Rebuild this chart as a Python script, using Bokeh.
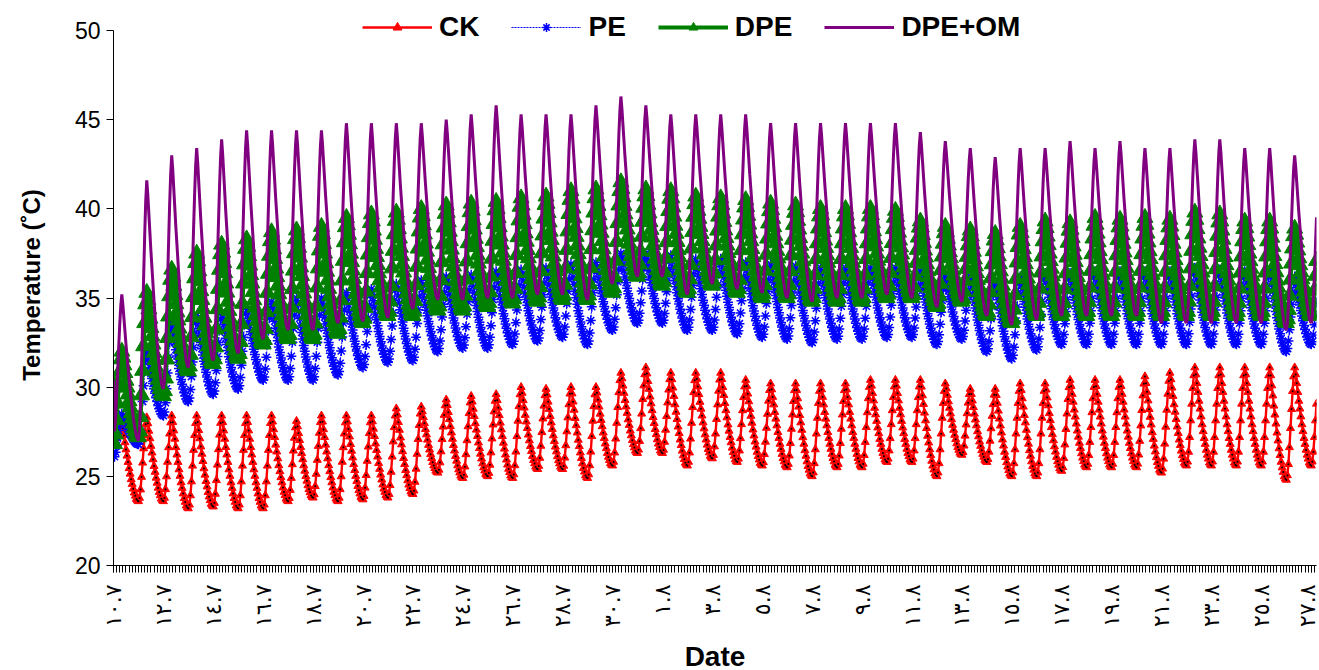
import math
import numpy as np
from bokeh.plotting import figure
from bokeh.models import FixedTicker, Legend, LegendItem, ColumnDataSource, Range1d
from bokeh.embed import file_html
from bokeh.resources import INLINE

# ---------------- data ----------------
N_HOURS = 1158                      # hourly readings, 10 Jul -> 27 Aug
tick_hours = list(range(0, 1153, 48))
tick_labels = ["١٠.٧", "١٢.٧", "١٤.٧", "١٦.٧", "١٨.٧", "٢٠.٧", "٢٢.٧", "٢٤.٧",
               "٢٦.٧", "٢٨.٧", "٣٠.٧", "١.٨", "٣.٨", "٥.٨", "٧.٨", "٩.٨",
               "١١.٨", "١٣.٨", "١٥.٨", "١٧.٨", "١٩.٨", "٢١.٨", "٢٣.٨", "٢٥.٨", "٢٧.٨"]
y_ticks = [20, 25, 30, 35, 40, 45, 50]

# diurnal shape (fraction between daily low and daily high), hour 0..23
diurnal_profile = [0.0, 0.04, 0.14, 0.29, 0.46, 0.63, 0.79, 0.92, 1.0,
                   0.93, 0.84, 0.75, 0.66, 0.58, 0.50, 0.42, 0.35, 0.28,
                   0.22, 0.16, 0.11, 0.07, 0.03, 0.01]

series_names = ["CK", "PE", "DPE", "DPE+OM"]
start_values = [27.7, 29.5, 30.2, 30.4]

ck_low = [26.8, 23.6, 23.6, 23.2, 23.3, 23.2, 23.2, 23.6, 23.8, 23.6, 23.7, 23.8, 24.0,
          25.2, 24.9, 25.0, 24.9, 25.4, 25.4, 24.9, 25.6, 26.3, 26.3, 25.6, 26.0, 25.8,
          25.6, 25.5, 25.0, 25.5, 25.5, 25.8, 25.8, 25.0, 26.2, 25.8, 25.0, 25.0, 25.3,
          25.5, 25.5, 25.5, 25.2, 25.6, 25.6, 25.6, 25.6, 24.8, 25.6]
ck_high = [28.0, 28.3, 28.4, 28.4, 28.4, 28.4, 28.4, 28.1, 28.4, 28.4, 28.4, 28.8, 28.9,
           29.3, 29.5, 29.6, 30.0, 29.9, 30.0, 30.0, 30.8, 31.1, 30.8, 30.8, 30.8, 30.4,
           30.2, 30.2, 30.2, 30.2, 30.4, 30.4, 30.4, 30.2, 29.9, 29.9, 30.2, 30.2, 30.4,
           30.4, 30.4, 30.6, 30.8, 31.1, 31.1, 31.1, 31.1, 31.1, 31.1]

pe_low = [26.0, 26.8, 28.4, 29.2, 29.6, 29.9, 30.4, 30.4, 30.4, 30.7, 31.1, 31.4, 31.5,
          32.0, 32.2, 32.2, 32.4, 32.6, 32.8, 32.4, 33.2, 33.6, 33.6, 33.2, 33.2, 33.0,
          32.8, 32.7, 32.5, 32.7, 32.7, 32.8, 32.8, 32.4, 32.7, 32.0, 31.6, 32.1, 32.4,
          32.4, 32.4, 32.4, 32.4, 32.4, 32.4, 32.4, 32.4, 32.0, 32.4]
pe_high = [28.5, 32.0, 33.6, 34.0, 34.2, 34.5, 34.8, 35.0, 35.0, 35.3, 35.5, 35.8, 36.0,
           36.2, 36.3, 36.5, 36.6, 36.7, 36.9, 37.0, 37.5, 37.5, 37.4, 37.2, 37.2, 37.0,
           36.9, 36.8, 36.7, 36.7, 36.7, 36.7, 36.5, 36.3, 36.2, 36.0, 36.2, 36.4, 36.4,
           36.5, 36.5, 36.5, 36.5, 36.7, 36.6, 36.5, 36.5, 36.2, 36.2]

dpe_low = [26.6, 27.2, 29.5, 30.9, 31.3, 31.6, 32.4, 32.7, 32.7, 33.0, 33.6, 34.0, 34.0,
           34.3, 34.3, 34.5, 34.7, 34.8, 34.9, 34.9, 35.3, 36.2, 35.7, 35.3, 35.7, 35.3,
           35.0, 35.0, 34.8, 34.8, 34.8, 35.0, 35.0, 34.5, 34.8, 34.0, 33.6, 34.0, 34.0,
           34.0, 34.0, 34.0, 34.0, 34.0, 34.0, 34.0, 34.0, 33.6, 34.0]
dpe_high = [32.0, 35.3, 36.6, 37.5, 38.0, 38.3, 38.7, 38.8, 39.0, 39.5, 39.7, 39.8, 40.0,
            40.2, 40.3, 40.4, 40.6, 40.7, 41.0, 41.1, 41.5, 41.1, 41.0, 40.7, 40.6, 40.5,
            40.3, 40.2, 40.0, 40.0, 40.0, 39.9, 39.3, 39.0, 38.8, 38.6, 39.0, 39.3, 39.2,
            39.5, 39.4, 39.5, 39.4, 39.8, 39.7, 39.3, 39.3, 38.9, 38.9]

om_low = [27.2, 27.0, 29.9, 31.1, 31.5, 31.9, 32.7, 33.2, 33.2, 33.6, 33.7, 33.9, 34.4,
          34.9, 34.9, 35.0, 35.0, 35.2, 35.2, 34.9, 35.8, 36.2, 36.2, 35.2, 35.8, 35.5,
          35.3, 35.0, 34.8, 35.0, 35.0, 35.2, 35.0, 34.5, 34.8, 34.0, 33.5, 33.8, 34.0,
          34.0, 34.0, 34.0, 33.6, 33.6, 33.6, 33.6, 33.6, 33.2, 33.6]
om_high = [35.2, 41.6, 43.0, 43.4, 43.9, 44.4, 44.4, 44.4, 44.4, 44.8, 44.8, 44.8, 44.8,
           45.0, 45.3, 45.8, 45.3, 45.3, 45.3, 45.8, 46.3, 45.8, 45.3, 45.3, 45.3, 45.3,
           44.8, 44.8, 44.8, 44.8, 44.8, 44.8, 44.3, 43.8, 43.4, 42.9, 43.4, 43.4, 43.8,
           43.4, 43.8, 43.4, 43.4, 43.9, 43.9, 43.4, 43.4, 43.0, 43.0]


def hourly(lows, highs, start):
    out = []
    for h in range(N_HOURS):
        d, k = divmod(h, 24)
        f = diurnal_profile[k]
        if k <= 8:
            out.append(lows[d] + f * (highs[d] - lows[d]))
        else:
            out.append(lows[d + 1] + f * (highs[d] - lows[d + 1]))
    out[0] = start
    return out


hours = list(range(N_HOURS))
src = ColumnDataSource(dict(
    x=hours,
    ck=hourly(ck_low, ck_high, start_values[0]),
    pe=hourly(pe_low, pe_high, start_values[1]),
    dpe=hourly(dpe_low, dpe_high, start_values[2]),
    om=hourly(om_low, om_high, start_values[3]),
))

# ---------------- figure ----------------
FONT = "Liberation Sans"
PX_PER_DEG = 535 / 30.0
TOP_PAD = 26  # extra frame space above 50 so the legend is not clipped
p = figure(frame_width=1203, frame_height=535 + TOP_PAD,
           min_border_left=113, min_border_right=3, min_border_top=30 - TOP_PAD,
           min_border_bottom=105,
           x_range=Range1d(0, N_HOURS - 1),
           y_range=Range1d(20, 50 + TOP_PAD / PX_PER_DEG),
           output_backend="svg", toolbar_location=None)
p.outline_line_color = None
p.xgrid.grid_line_color = None
p.ygrid.grid_line_color = None
p.background_fill_color = "white"

# CK
r_ck_l = p.line("x", "ck", source=src, line_color="#FF0000", line_width=2.4)
r_ck_m = p.scatter("x", "ck", source=src, marker="triangle", size=8,
                   fill_color="#FF0000", line_color="#FF0000")
r_ck_d = p.scatter("x", "ck", source=src, marker="circle", size=2,
                   fill_color="black", line_color=None)
# PE
r_pe_l = p.line("x", "pe", source=src, line_color="#0000FF", line_width=1, line_dash="2 1")
r_pe_m = p.scatter("x", "pe", source=src, marker="asterisk", size=10,
                   line_color="#0000FF", line_width=1.5)
# DPE
r_dpe_l = p.line("x", "dpe", source=src, line_color="#008000", line_width=4)
r_dpe_m = p.scatter("x", "dpe", source=src, marker="triangle", size=16,
                    fill_color="#008000", line_color="#008000")
# DPE+OM
r_om = p.line("x", "om", source=src, line_color="#800080", line_width=3)

# axes
xa = p.xaxis[0]
xa.ticker = FixedTicker(ticks=tick_hours, minor_ticks=list(range(0, N_HOURS, 3)))
xa.major_label_overrides = {t: lab for t, lab in zip(tick_hours, tick_labels)}
xa.major_label_orientation = math.pi / 2
xa.major_label_text_font = "DejaVu Sans"
xa.major_label_text_font_size = "22px"
xa.major_label_text_color = "black"
xa.major_label_standoff = 12
xa.major_tick_out = 7
xa.major_tick_in = 0
xa.minor_tick_out = 7
xa.minor_tick_in = 0
xa.minor_tick_line_color = "black"
xa.axis_line_color = "black"
xa.axis_label = "Date"
xa.axis_label_text_font = FONT
xa.axis_label_text_font_style = "bold"
xa.axis_label_text_font_size = "28px"
xa.axis_label_text_color = "black"
xa.axis_label_standoff = 11

ya = p.yaxis[0]
ya.ticker = FixedTicker(ticks=y_ticks)
ya.bounds = (y_ticks[0], y_ticks[-1])
ya.minor_tick_line_color = None
ya.major_tick_out = 7
ya.major_tick_in = 0
ya.major_label_standoff = 6
ya.major_label_text_font = FONT
ya.major_label_text_font_size = "23px"
ya.major_label_text_color = "black"
ya.axis_line_color = "black"
ya.axis_label = "Temperature (˚C)"
ya.axis_label_text_font = FONT
ya.axis_label_text_font_style = "bold"
ya.axis_label_text_font_size = "24px"
ya.axis_label_text_color = "black"
ya.axis_label_standoff = 27

legend = Legend(items=[
    LegendItem(label=series_names[0], renderers=[r_ck_l, r_ck_m]),
    LegendItem(label=series_names[1], renderers=[r_pe_l, r_pe_m]),
    LegendItem(label=series_names[2], renderers=[r_dpe_l, r_dpe_m]),
    LegendItem(label=series_names[3], renderers=[r_om]),
], orientation="horizontal", location=(249, 522),
    glyph_width=70, glyph_height=22, label_height=22, label_standoff=7, spacing=32,
    padding=0, margin=0, border_line_alpha=0, background_fill_alpha=0,
    label_text_font=FONT, label_text_font_style="bold", label_text_font_size="28px",
    label_text_color="black")
p.add_layout(legend)

open("out.html", "w").write(file_html(p, INLINE))
